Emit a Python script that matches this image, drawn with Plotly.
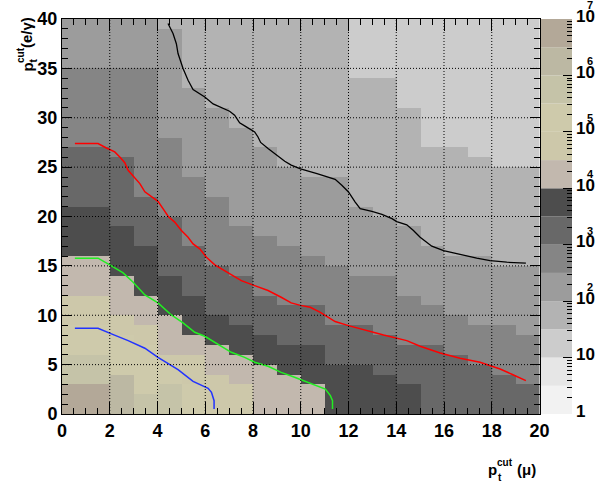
import math
import plotly.graph_objects as go

# ---------------- data ----------------
# Colour band of every cell (bins of 1 x 1). Bands are half decades:
# band k covers 10^((k-1)/2) .. 10^(k/2), k = 1..14 (1 .. 1e7).
# For each x column (0..19): runs of (lower y edge, band), from y=40 downward.
col_runs = [
    [(35, 5), (27, 6), (21, 7), (16, 8), (12, 9), (9, 10), (6, 11), (3, 12), (0, 14)],
    [(35, 5), (27, 6), (21, 7), (16, 8), (12, 9), (9, 10), (6, 11), (3, 12), (0, 14)],
    [(35, 5), (26, 6), (19, 7), (14, 8), (10, 9), (8, 10), (4, 11), (0, 13)],
    [(35, 5), (22, 6), (17, 7), (12, 8), (9, 9), (7, 10), (2, 11), (0, 12)],
    [(39, 4), (28, 5), (20, 6), (14, 7), (10, 8), (6, 9), (5, 10), (3, 11), (0, 12)],
    [(33, 4), (24, 5), (17, 6), (12, 7), (8, 8), (6, 9), (3, 10), (0, 11)],
    [(31, 4), (22, 5), (15, 6), (10, 7), (7, 8), (4, 9), (0, 10)],
    [(29, 4), (19, 5), (14, 6), (9, 7), (6, 8), (3, 9), (0, 10)],
    [(27, 4), (18, 5), (12, 6), (8, 7), (5, 8), (0, 9)],
    [(25, 4), (17, 5), (11, 6), (7, 7), (4, 8), (0, 9)],
    [(24, 4), (16, 5), (11, 6), (7, 7), (3, 8), (0, 9)],
    [(24, 4), (15, 5), (9, 6), (5, 7), (0, 8)],
    [(34, 3), (21, 4), (14, 5), (9, 6), (5, 7), (0, 8)],
    [(34, 3), (20, 4), (14, 5), (8, 6), (4, 7), (0, 8)],
    [(31, 3), (19, 4), (12, 5), (7, 6), (3, 7), (0, 8)],
    [(27, 3), (17, 4), (11, 5), (7, 6), (0, 7)],
    [(27, 3), (16, 4), (10, 5), (6, 6), (0, 7)],
    [(26, 3), (16, 4), (9, 5), (5, 6), (0, 7)],
    [(25, 3), (15, 4), (9, 5), (4, 6), (0, 7)],
    [(25, 3), (15, 4), (8, 5), (3, 6), (0, 7)],
]

band_colors = [
    "#f2f2f2", "#e6e6e6", "#cccccc", "#b3b3b3", "#9c9c9c", "#858585", "#686868",
    "#4d4d4d", "#c2b8ae", "#cdc8aa", "#cecaab", "#c5c3a8", "#bcb8a3", "#b3a898",
]

x_ticks = [0, 2, 4, 6, 8, 10, 12, 14, 16, 18, 20]
y_ticks = [0, 5, 10, 15, 20, 25, 30, 35, 40]
cbar_ticks = [1, 10, 100, 1e3, 1e4, 1e5, 1e6, 1e7]
cbar_exponents = ["", "", "2", "3", "4", "5", "6", "7"]

# contour lines (levels 1e2 black, 1e3 red, 1e4 green, 1e5 blue)
black_x = [4.44, 4.65, 4.79, 4.86, 5.07, 5.28, 5.49, 5.70, 5.98, 6.33, 6.67, 7.02, 7.23, 7.44,
           7.72, 8.07, 8.21, 8.32, 8.63, 8.98, 9.33, 9.60, 9.99, 10.68, 11.44, 11.72, 12.0,
           12.28, 12.49, 12.98, 13.40, 13.82, 14.02, 14.44, 14.72, 15.0, 15.49, 15.98, 16.53,
           17.37, 17.93, 18.63, 19.43]
black_y = [39.54, 38.53, 37.5, 36.5, 34.98, 33.8, 32.85, 32.55, 32.1, 31.4, 31.0, 30.66, 30.26,
           29.48, 29.07, 28.56, 28.05, 27.5, 26.89, 26.2, 25.6, 25.2, 24.82, 24.34, 23.77,
           23.16, 22.48, 21.46, 20.79, 20.52, 20.22, 19.78, 19.49, 19.16, 18.58, 17.9, 16.99,
           16.55, 16.22, 15.78, 15.54, 15.37, 15.27]
red_x = [0.54, 1.51, 1.86, 2.21, 2.42, 2.63, 2.77, 2.98, 3.26, 3.47, 3.74, 4.02, 4.23, 4.45,
         4.72, 5.0, 5.28, 5.49, 5.77, 6.05, 6.4, 6.67, 7.02, 7.51, 8.07, 8.63, 9.18, 9.6,
         9.99, 10.4, 10.82, 11.44, 12.0, 12.91, 13.47, 14.44, 15.0, 15.84, 16.67, 17.51,
         18.35, 18.91, 19.43]
red_y = [27.38, 27.38, 26.94, 26.54, 26.03, 25.45, 24.68, 24.1, 23.33, 22.5, 21.99, 21.54,
         20.8, 20.0, 19.43, 18.58, 17.9, 17.23, 16.72, 15.88, 15.1, 14.7, 14.19, 13.51,
         13.0, 12.5, 11.82, 11.25, 11.0, 10.81, 10.3, 9.36, 8.95, 8.34, 8.0, 7.43, 6.86,
         6.18, 5.64, 5.24, 4.56, 3.95, 3.38]
green_x = [0.54, 1.51, 2.0, 2.56, 2.98, 3.47, 4.02, 4.58, 5.07, 5.56, 5.98, 6.53, 7.09, 7.65,
           8.07, 8.63, 9.18, 9.74, 9.99, 10.47, 11.03, 11.24, 11.33, 11.33]
green_y = [15.78, 15.78, 15.1, 14.29, 13.34, 12.06, 11.25, 10.03, 9.22, 8.28, 7.87, 7.09,
           6.25, 5.74, 5.24, 4.83, 4.22, 3.72, 3.5, 3.04, 2.53, 1.86, 1.35, 0.51]
blue_x = [0.54, 1.51, 2.07, 2.77, 3.47, 4.02, 4.86, 5.49, 6.12, 6.26, 6.37, 6.37]
blue_y = [8.68, 8.68, 8.11, 7.43, 6.66, 5.74, 4.49, 3.31, 2.6, 2.2, 1.35, 0.51]

# ---------------- build the cell table ----------------
n_x, n_y = 20, 40
band_grid = [[1] * n_x for _ in range(n_y)]
for i, runs in enumerate(col_runs):
    top = n_y
    for low, band in runs:
        for j in range(low, top):
            band_grid[j][i] = band
        top = low
z_log = [[(b - 0.5) * 0.5 for b in row] for row in band_grid]
x_centers = [i + 0.5 for i in range(n_x)]
y_centers = [j + 0.5 for j in range(n_y)]

nb = len(band_colors)
colorscale = []
for k, c in enumerate(band_colors):
    colorscale.append([k / nb, c])
    colorscale.append([(k + 1) / nb, c])

FONT = "Liberation Sans, Arial, sans-serif"

fig = go.Figure()
fig.add_trace(go.Heatmap(x=x_centers, y=y_centers, z=z_log, zmin=0, zmax=7,
                         colorscale=colorscale, showscale=False, hoverinfo="skip"))

for xs, ys, col, w in [(black_x, black_y, "#000000", 1.3), (red_x, red_y, "#ff0000", 1.5),
                       (green_x, green_y, "#22ee22", 1.5), (blue_x, blue_y, "#2233ff", 1.5)]:
    fig.add_trace(go.Scatter(x=xs, y=ys, mode="lines", line=dict(color=col, width=w),
                             showlegend=False, hoverinfo="skip"))

# colour bar drawn as stacked bars on a log axis
edges = [10 ** (k / 2) for k in range(nb + 1)]
fig.add_trace(go.Bar(x=[0] * nb, y=[edges[k + 1] - edges[k] for k in range(nb)],
                     base=edges[:-1], marker=dict(color=band_colors, line=dict(width=0)),
                     width=1, xaxis="x2", yaxis="y2", showlegend=False, hoverinfo="skip"))

# dotted grid on top of the cells
shapes = []
for xv in x_ticks[1:-1]:
    shapes.append(dict(type="line", xref="x", yref="y", x0=xv, x1=xv, y0=0, y1=40,
                       line=dict(color="black", width=1, dash="1px,2px"), layer="above"))
for yv in y_ticks[1:-1]:
    shapes.append(dict(type="line", xref="x", yref="y", x0=0, x1=20, y0=yv, y1=yv,
                       line=dict(color="black", width=1, dash="1px,2px"), layer="above"))

L, R, T, B = 62, 23, 19, 71
W, H = 595, 485
pw, ph = W - L - R, H - T - B


def px(xp):
    return (xp - L) / pw


def py(yp):
    return (H - B - yp) / ph


tickfont = dict(family=FONT, size=18, color="black", weight="bold")
fig.update_layout(
    width=W, height=H, margin=dict(l=L, r=R, t=T, b=B),
    paper_bgcolor="white", plot_bgcolor="white", barmode="overlay", showlegend=False,
    shapes=shapes,
    xaxis=dict(domain=[0, px(539.5)], range=[0, 20], tickvals=x_ticks, ticks="inside",
               ticklen=12, tickcolor="black", showline=True, linecolor="black", mirror="ticks",
               showgrid=False, zeroline=False, tickfont=tickfont, automargin=False,
               minor=dict(dtick=0.5, ticks="inside", ticklen=6, tickcolor="black", showgrid=False),
               anchor="y"),
    yaxis=dict(domain=[0, 1], range=[0, 40], tickvals=y_ticks, ticks="inside", ticklen=10,
               tickcolor="black", showline=True, linecolor="black", mirror="ticks",
               showgrid=False, zeroline=False, tickfont=tickfont, automargin=False,
               minor=dict(dtick=1, ticks="inside", ticklen=6, tickcolor="black", showgrid=False),
               anchor="x"),
    xaxis2=dict(domain=[px(541), 1], range=[-0.5, 0.5], visible=False, anchor="y2"),
    yaxis2=dict(domain=[0, 1], type="log", range=[0, 7], anchor="x2", side="right",
                tickvals=cbar_ticks, showticklabels=False, ticks="inside", ticklen=9,
                tickcolor="black", showline=False, showgrid=False, zeroline=False,
                automargin=False,
                minor=dict(dtick="D1", ticks="inside", ticklen=5, tickcolor="black",
                           showgrid=False)),
)

ann = []
# colour-bar labels: "10" with a raised exponent, ROOT style
cf = dict(family=FONT, size=17, color="black", weight="bold")
ef = dict(family=FONT, size=11, color="black", weight="bold")
for v, e in zip(cbar_ticks, cbar_exponents):
    base_txt = "1" if v == 1 else "10"
    ann.append(dict(text=base_txt, xref="paper", yref="y2", x=px(574), y=math.log10(v),
                    xanchor="left", yanchor="middle", yshift=3, font=cf, showarrow=False))
    if e:
        ann.append(dict(text=e, xref="paper", yref="y2", x=px(590), y=math.log10(v),
                        xanchor="center", yanchor="middle", yshift=14, font=ef,
                        showarrow=False))

# axis titles, ROOT-like with stacked sub/superscript
tf = dict(family=FONT, size=15, color="black", weight="bold")
sf = dict(family=FONT, size=10, color="black", weight="bold")
titles = [
    # x title
    dict(text="p", x=px(492), y=py(469), font=tf),
    dict(text="cut", x=px(505), y=py(462), font=sf),
    dict(text="t", x=px(499.5), y=py(477), font=sf),
    dict(text="(μ)", x=px(526), y=py(469), font=tf),
    # y title (rotated)
    dict(text="p", x=px(27), y=py(67.5), font=tf, textangle=-90),
    dict(text="cut", x=px(20), y=py(55), font=sf, textangle=-90),
    dict(text="t", x=px(33), y=py(60.5), font=sf, textangle=-90),
    dict(text="(e/γ)", x=px(27), y=py(33), font=tf, textangle=-90),
]
for a in titles:
    a.update(xref="paper", yref="paper", showarrow=False, xanchor="center", yanchor="middle")
ann += titles
fig.update_layout(annotations=ann)

fig.write_html("out.html", config={"displayModeBar": False, "staticPlot": True},
               post_script="document.body.style.margin='0';"
               "document.body.style.overflow='hidden';")
